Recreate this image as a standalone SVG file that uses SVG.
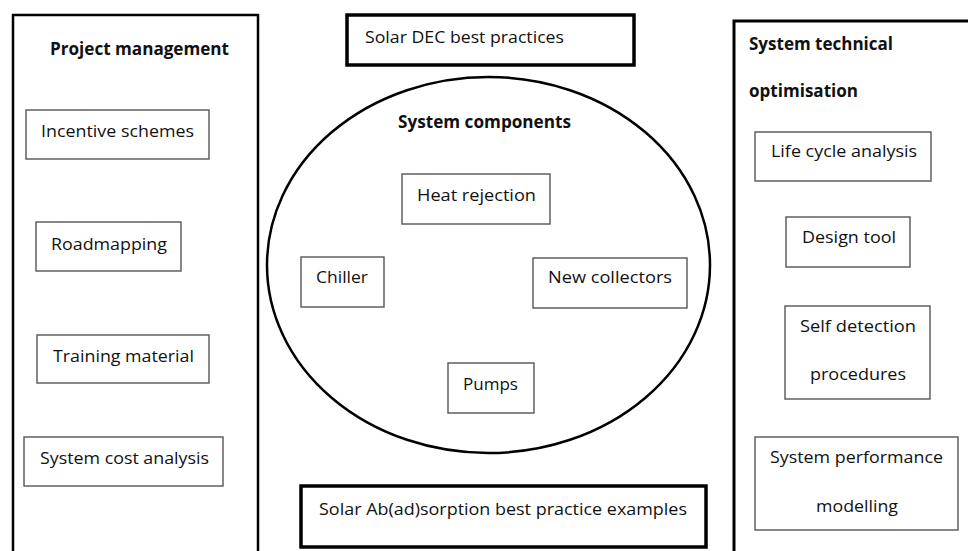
<svg xmlns="http://www.w3.org/2000/svg" width="968" height="551" viewBox="0 0 968 551">
<style>
text{font-family:"Open Sans","Liberation Sans",sans-serif;font-size:17px;fill:#111}
.b{font-weight:700}
.panel{fill:#fff;stroke:#000;stroke-width:2.5}
.thick{fill:#fff;stroke:#000;stroke-width:3.5}
.item{fill:#fff;stroke:#555;stroke-width:1.4}
.oval{fill:#fff;stroke:#000;stroke-width:2.5}
</style>
<rect width="968" height="551" fill="#fff"/>
<g id="project-management">
<rect class="panel" x="13" y="15" width="245" height="560"/>
<text class="b" x="50" y="55" textLength="179" lengthAdjust="spacingAndGlyphs">Project management</text>
</g>
<g id="incentive-schemes"><rect class="item" x="26" y="110" width="183" height="49"/><text x="41" y="137" textLength="153" lengthAdjust="spacingAndGlyphs">Incentive schemes</text></g>
<g id="roadmapping"><rect class="item" x="36" y="222" width="145" height="49"/><text x="51" y="250" textLength="116" lengthAdjust="spacingAndGlyphs">Roadmapping</text></g>
<g id="training-material"><rect class="item" x="37" y="335" width="172" height="48"/><text x="53" y="362" textLength="141" lengthAdjust="spacingAndGlyphs">Training material</text></g>
<g id="system-cost-analysis"><rect class="item" x="24" y="437" width="199" height="49"/><text x="40" y="464" textLength="169" lengthAdjust="spacingAndGlyphs">System cost analysis</text></g>

<g id="solar-dec"><rect class="thick" x="347" y="15" width="287" height="50"/><text x="365" y="43" textLength="199" lengthAdjust="spacingAndGlyphs">Solar DEC best practices</text></g>

<g id="system-components">
<ellipse class="oval" cx="488.5" cy="265" rx="221.5" ry="188"/>
<text class="b" x="398" y="128" textLength="173" lengthAdjust="spacingAndGlyphs">System components</text>
</g>
<g id="heat-rejection"><rect class="item" x="402" y="174" width="148" height="50"/><text x="417" y="201" textLength="119" lengthAdjust="spacingAndGlyphs">Heat rejection</text></g>
<g id="chiller"><rect class="item" x="301" y="257" width="83" height="50"/><text x="316" y="283" textLength="52" lengthAdjust="spacingAndGlyphs">Chiller</text></g>
<g id="new-collectors"><rect class="item" x="533" y="258" width="154" height="50"/><text x="548" y="283" textLength="124" lengthAdjust="spacingAndGlyphs">New collectors</text></g>
<g id="pumps"><rect class="item" x="448" y="363" width="86" height="50"/><text x="463" y="390" textLength="55" lengthAdjust="spacingAndGlyphs">Pumps</text></g>

<g id="solar-absorption"><rect class="thick" x="301" y="486" width="405" height="61"/><text x="319" y="515" textLength="368" lengthAdjust="spacingAndGlyphs">Solar Ab(ad)sorption best practice examples</text></g>

<g id="system-technical-optimisation">
<rect class="panel" x="734" y="21" width="260" height="560" style="stroke-width:3"/>
<text class="b" x="749" y="50" textLength="144" lengthAdjust="spacingAndGlyphs">System technical</text>
<text class="b" x="749" y="97" textLength="109" lengthAdjust="spacingAndGlyphs">optimisation</text>
</g>
<g id="life-cycle-analysis"><rect class="item" x="755" y="132" width="176" height="49"/><text x="771" y="157" textLength="146" lengthAdjust="spacingAndGlyphs">Life cycle analysis</text></g>
<g id="design-tool"><rect class="item" x="786" y="217" width="124" height="50"/><text x="802" y="243" textLength="94" lengthAdjust="spacingAndGlyphs">Design tool</text></g>
<g id="self-detection"><rect class="item" x="785" y="306" width="145" height="93"/><text x="800" y="332" textLength="116" lengthAdjust="spacingAndGlyphs">Self detection</text><text x="810" y="380" textLength="96" lengthAdjust="spacingAndGlyphs">procedures</text></g>
<g id="system-performance"><rect class="item" x="755" y="437" width="203" height="93"/><text x="770" y="463" textLength="173" lengthAdjust="spacingAndGlyphs">System performance</text><text x="816" y="512" textLength="82" lengthAdjust="spacingAndGlyphs">modelling</text></g>

<g id="connectors"></g>
</svg>
